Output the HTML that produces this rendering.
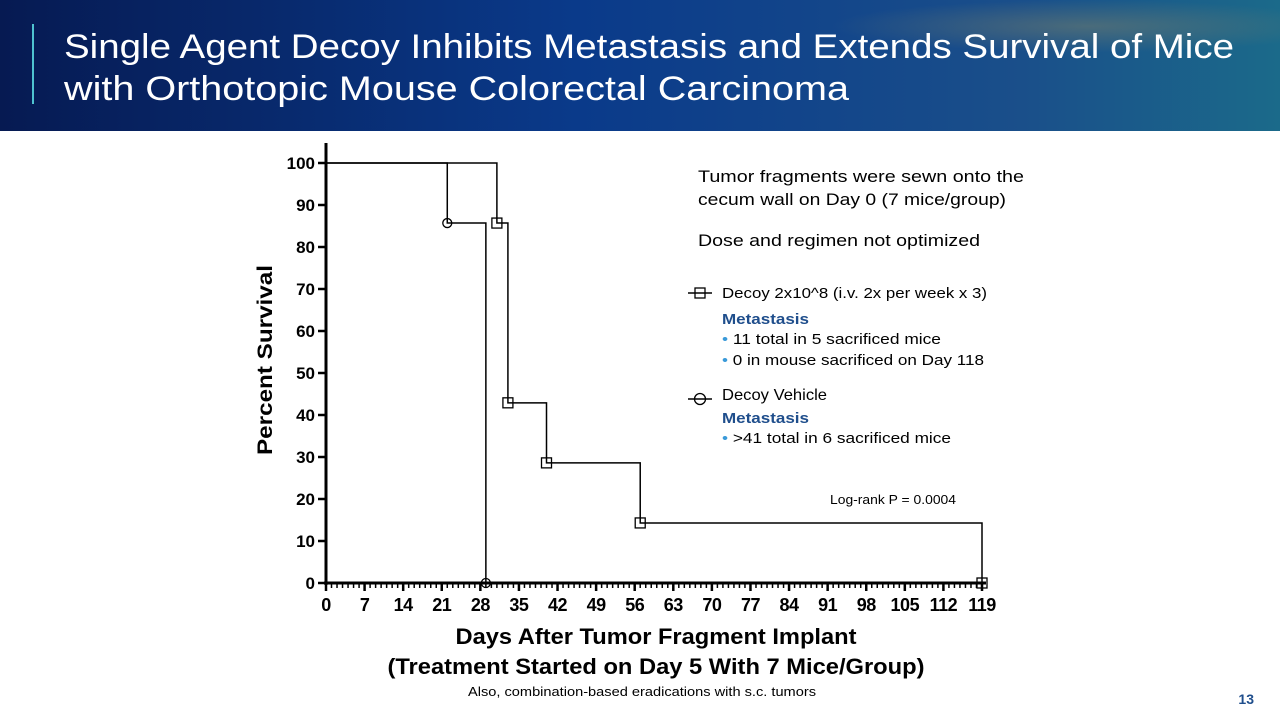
<!DOCTYPE html>
<html><head><meta charset="utf-8"><style>
html,body{margin:0;padding:0;background:#fff;}
svg{display:block;font-family:"Liberation Sans",sans-serif;}
</style></head><body>
<svg id="c" width="1280" height="720" viewBox="0 0 1280 720">
<defs>
<linearGradient id="hg" x1="0" y1="0" x2="1" y2="0">
<stop offset="0" stop-color="#061a52"/><stop offset="0.45" stop-color="#0a3a8a"/><stop offset="0.8" stop-color="#1a4f8a"/><stop offset="1" stop-color="#1b6a8a"/>
</linearGradient>
<radialGradient id="hr" cx="0.85" cy="0.2" r="0.2"><stop offset="0" stop-color="#6a7a70" stop-opacity="0.6"/><stop offset="1" stop-color="#6a7a70" stop-opacity="0"/></radialGradient>
</defs>
<g>
<rect x="0" y="0" width="1280" height="131" fill="url(#hg)"/>
<rect x="0" y="0" width="1280" height="131" fill="url(#hr)"/>
<rect x="32" y="24" width="2" height="80" fill="#4fc3d0"/>
<text x="64" y="58" fill="#fff" font-size="34" textLength="1170" lengthAdjust="spacingAndGlyphs">Single Agent Decoy Inhibits Metastasis and Extends Survival of Mice</text>
<text x="64" y="100" fill="#fff" font-size="34" textLength="785" lengthAdjust="spacingAndGlyphs">with Orthotopic Mouse Colorectal Carcinoma</text>
</g>
<g id="axes"></g>
<g id="series"></g>
<text transform="translate(272,360) rotate(-90)" text-anchor="middle" font-size="21" font-weight="bold" textLength="190" lengthAdjust="spacingAndGlyphs">Percent Survival</text>
<text x="656" y="644" text-anchor="middle" font-size="22" font-weight="bold" textLength="401" lengthAdjust="spacingAndGlyphs">Days After Tumor Fragment Implant</text>
<text x="656" y="674" text-anchor="middle" font-size="22" font-weight="bold" textLength="537" lengthAdjust="spacingAndGlyphs">(Treatment Started on Day 5 With 7 Mice/Group)</text>
<text x="468" y="696" font-size="12.5" textLength="348" lengthAdjust="spacingAndGlyphs">Also, combination-based eradications with s.c. tumors</text>
<text x="1254" y="704" text-anchor="end" font-size="14" font-weight="bold" fill="#1f4e8c">13</text>
<g font-size="17">
<text x="698" y="182" textLength="326" lengthAdjust="spacingAndGlyphs">Tumor fragments were sewn onto the</text>
<text x="698" y="205" textLength="308" lengthAdjust="spacingAndGlyphs">cecum wall on Day 0 (7 mice/group)</text>
<text x="698" y="246" textLength="282" lengthAdjust="spacingAndGlyphs">Dose and regimen not optimized</text>
</g>
<g>
<line x1="688" y1="293" x2="712" y2="293" stroke="#000" stroke-width="1.5"/>
<rect x="695" y="288" width="10" height="10" fill="none" stroke="#000" stroke-width="1.3"/>
<text x="722" y="298" font-size="15" textLength="265" lengthAdjust="spacingAndGlyphs">Decoy 2x10^8 (i.v. 2x per week x 3)</text>
<text x="722" y="324" font-size="15" font-weight="bold" fill="#1f4e8c" textLength="87" lengthAdjust="spacingAndGlyphs">Metastasis</text>
<text x="722" y="344" font-size="15" textLength="219" lengthAdjust="spacingAndGlyphs"><tspan fill="#3a9ad9">•</tspan> 11 total in 5 sacrificed mice</text>
<text x="722" y="365" font-size="15" textLength="262" lengthAdjust="spacingAndGlyphs"><tspan fill="#3a9ad9">•</tspan> 0 in mouse sacrificed on Day 118</text>
</g>
<g>
<line x1="688" y1="399" x2="712" y2="399" stroke="#000" stroke-width="1.5"/>
<circle cx="700" cy="399" r="5.5" fill="none" stroke="#000" stroke-width="1.3"/>
<text x="722" y="400" font-size="16" textLength="105" lengthAdjust="spacingAndGlyphs">Decoy Vehicle</text>
<text x="722" y="423" font-size="15" font-weight="bold" fill="#1f4e8c" textLength="87" lengthAdjust="spacingAndGlyphs">Metastasis</text>
<text x="722" y="443" font-size="15" textLength="229" lengthAdjust="spacingAndGlyphs"><tspan fill="#3a9ad9">•</tspan> &gt;41 total in 6 sacrificed mice</text>
</g>
<text x="830" y="504" font-size="12.5" textLength="126" lengthAdjust="spacingAndGlyphs">Log-rank P = 0.0004</text>
</svg>
<script>
const xTicks=[0,7,14,21,28,35,42,49,56,63,70,77,84,91,98,105,112,119];
const yTicks=[0,10,20,30,40,50,60,70,80,90,100];
const decoyDays=[0,31,33,40,57,119];
const decoyPct=[100,85.7,42.9,28.6,14.3,0];
const vehicleDays=[0,22,29];
const vehiclePct=[100,85.7,0];
const NS="http://www.w3.org/2000/svg";
const X=d=>326+d*(656/119);
const Y=p=>583-p*4.2;
function mk(tag,attrs,parent){const e=document.createElementNS(NS,tag);for(const k in attrs)e.setAttribute(k,attrs[k]);parent.appendChild(e);return e;}
const ax=document.getElementById('axes');
let a=mk('line',{x1:326,y1:143,x2:326,y2:585,stroke:'#000','stroke-width':3},ax);


a=mk('line',{x1:324,y1:583,x2:986,y2:583,stroke:'#000','stroke-width':3},ax);


for(let d=0;d<=119;d++){const maj=d%7===0;mk('line',{x1:X(d),y1:583,x2:X(d),y2:maj?591:588,stroke:'#000','stroke-width':maj?2.5:1.5},ax);}
xTicks.forEach(t=>{const e=mk('text',{x:X(t),y:611,'text-anchor':'middle','font-size':18,'font-weight':'bold','letter-spacing':'-0.5'},ax);e.textContent=t;

});
yTicks.forEach(t=>{mk('line',{x1:318,y1:Y(t),x2:326,y2:Y(t),stroke:'#000','stroke-width':2.5},ax);
const e=mk('text',{x:315,y:Y(t)+6,'text-anchor':'end','font-size':17,'font-weight':'bold'},ax);e.textContent=t;

});
const sg=document.getElementById('series');
function step(days,pct){let d='M'+X(days[0])+','+Y(pct[0]);for(let i=1;i<days.length;i++){d+=' H'+X(days[i])+' V'+Y(pct[i]);}return d;}
let p=mk('path',{d:step(decoyDays,decoyPct),fill:'none',stroke:'#000','stroke-width':1.5},sg);


p=mk('path',{d:step(vehicleDays,vehiclePct),fill:'none',stroke:'#000','stroke-width':1.5},sg);


for(let i=1;i<decoyDays.length;i++){const m=mk('rect',{x:X(decoyDays[i])-5,y:Y(decoyPct[i])-5,width:10,height:10,fill:'none',stroke:'#000','stroke-width':1.3},sg);

}
for(let i=1;i<vehicleDays.length;i++){const m=mk('circle',{cx:X(vehicleDays[i]),cy:Y(vehiclePct[i]),r:4.5,fill:'none',stroke:'#000','stroke-width':1.3},sg);

}
</script>
</body></html>
